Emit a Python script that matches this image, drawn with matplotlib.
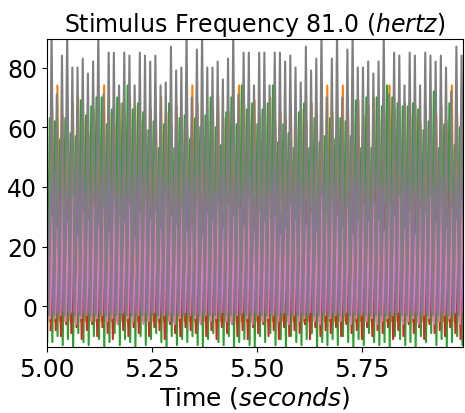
import numpy as np
import matplotlib
matplotlib.use("Agg")
import matplotlib.pyplot as plt

stim_freq = 81.0  # hertz, from the title
first_peak = 5.011  # seconds, first grey spike

# peak / trough heights per cycle
gray_peak = [92, 71, 84, 92, 80, 80, 83, 78, 82,
             92, 71, 85, 85, 74, 85, 84, 74, 85,
             84, 82, 84, 74, 75, 87, 79, 80, 92,
             70, 86, 92, 80, 80, 82, 76, 83, 92,
             71, 85, 85, 74, 85, 85, 74, 85, 85,
             82, 84, 80, 75, 87, 79, 83, 92, 70,
             83, 92, 70, 86, 92, 80, 80, 82, 78,
             82, 92, 71, 85, 84, 74, 85, 84, 74,
             85, 84, 82, 84, 80, 72, 87, 84, 86]
gray_trough = -3

orange_peak = [66, 74, 64, 60, 68, 70, 63, 58, 66,
               62, 74, 65, 61, 68, 64, 70, 67, 62,
               59, 66, 63, 70, 65, 61, 67, 63, 60,
               74, 68, 64, 62, 66, 70, 63, 65, 60,
               74, 67, 62, 69, 64, 66, 70, 61, 65,
               63, 67, 60, 66, 62, 68, 64, 61, 74,
               65, 63, 74, 66, 62, 69, 64, 67, 70,
               63, 65, 74, 66, 60, 68, 64, 67, 61,
               66, 60, 64, 67, 62, 74, 65, 63, 68]
orange_trough = -5

green_peak = [63, 62, 56, 63, 58, 57, 69, 64, 67,
              70, 70, 61, 66, 70, 68, 74, 66, 68,
              65, 59, 62, 53, 61, 68, 53, 63, 64,
              56, 63, 60, 64, 70, 60, 54, 65, 70,
              61, 74, 66, 68, 61, 66, 68, 74, 55,
              61, 58, 53, 65, 68, 53, 63, 55, 57,
              63, 56, 63, 62, 57, 69, 53, 70, 53,
              70, 67, 74, 70, 68, 67, 67, 68, 66,
              59, 62, 72, 53, 61, 68, 54, 60, 65]
green_trough = [-12, -10, -13, -11, -14, -9, -12, -13, -10,
                -11, -14, -12, -9, -13, -11, -12, -14, -10,
                -13, -11, -9, -12, -14, -10, -13, -11, -12,
                -10, -13, -14, -11, -9, -12, -13, -10, -14,
                -12, -11, -13, -14, -10, -12, -9, -13, -11,
                -14, -10, -12, -13, -11, -9, -14, -12, -13,
                -11, -13, -10, -12, -14, -11, -13, -9, -12,
                -13, -12, -14, -10, -11, -13, -12, -14, -10,
                -12, -9, -13, -11, -14, -12, -10, -13, -14]

red_peak = [34, 38, 31, 36, 33, 39, 35, 32, 37,
            36, 33, 38, 34, 31, 37, 35, 39, 32,
            33, 37, 35, 31, 38, 34, 36, 32, 39,
            38, 32, 36, 35, 33, 39, 31, 37, 34,
            35, 39, 33, 37, 32, 36, 38, 34, 31,
            37, 34, 39, 32, 36, 33, 35, 38, 31,
            32, 36, 34, 38, 35, 31, 37, 33, 39,
            39, 35, 32, 36, 34, 38, 33, 37, 35,
            34, 31, 37, 33, 39, 35, 32, 36, 38]
red_trough = [-8, -10, -6, -9, -7, -11, -8, -6, -10,
              -7, -9, -11, -6, -8, -10, -7, -9, -5,
              -10, -7, -8, -11, -6, -9, -10, -7, -8,
              -9, -6, -10, -8, -11, -7, -9, -6, -10,
              -8, -11, -7, -9, -6, -10, -8, -11, -7,
              -10, -8, -9, -6, -11, -7, -10, -8, -9,
              -7, -10, -6, -9, -8, -11, -7, -10, -8,
              -9, -7, -11, -8, -10, -6, -9, -7, -11,
              -6, -9, -8, -10, -7, -9, -11, -8, -10]

purple_peak = [42, 45, 40, 44, 41, 46, 43, 39, 44,
               41, 44, 46, 42, 40, 45, 43, 41, 44,
               45, 42, 39, 44, 43, 41, 46, 40, 43,
               40, 44, 42, 45, 41, 39, 44, 46, 42,
               43, 41, 45, 40, 44, 42, 39, 45, 41,
               44, 46, 41, 43, 40, 45, 42, 44, 39,
               41, 43, 45, 39, 44, 42, 46, 41, 43,
               45, 40, 43, 46, 42, 44, 41, 39, 45,
               42, 44, 40, 43, 45, 41, 44, 42, 46]
purple_trough = -2

pink_peak = [30, 26, 34, 28, 37, 24, 32, 29, 35,
             27, 33, 25, 36, 30, 28, 34, 23, 31,
             35, 29, 32, 26, 38, 30, 27, 33, 25,
             28, 36, 24, 31, 29, 35, 26, 34, 30,
             33, 27, 37, 25, 32, 28, 36, 30, 24,
             26, 34, 29, 35, 27, 31, 25, 37, 32,
             36, 30, 26, 33, 24, 29, 34, 28, 35,
             29, 25, 35, 30, 37, 26, 32, 24, 33,
             31, 37, 28, 34, 26, 33, 29, 35, 27]
pink_trough = [-4, -3, -5, -2, -6, -4, -3, -5, -4,
               -3, -5, -4, -6, -2, -4, -5, -3, -6,
               -5, -2, -4, -3, -5, -6, -4, -2, -3,
               -4, -6, -3, -5, -4, -2, -5, -6, -3,
               -2, -4, -6, -3, -5, -4, -3, -5, -2,
               -6, -3, -5, -4, -2, -5, -6, -3, -4,
               -3, -5, -2, -6, -4, -3, -5, -4, -6,
               -5, -4, -3, -2, -6, -5, -4, -6, -3,
               -4, -6, -5, -3, -4, -2, -6, -3, -5]


def spike_train(peaks, troughs, phase):
    # alternate trough / peak points, one spike per stimulus cycle
    period = 1.0 / stim_freq
    peaks = np.asarray(peaks, dtype=float)
    troughs = np.broadcast_to(np.asarray(troughs, dtype=float), peaks.shape)
    k = np.arange(len(peaks))
    t_peak = first_peak + (k + phase) * period
    t_trough = t_peak + 0.5 * period
    t = np.empty(2 * len(peaks) + 1)
    v = np.empty(2 * len(peaks) + 1)
    t[0] = t_peak[0] - 0.5 * period
    v[0] = troughs[0]
    t[1::2] = t_peak
    v[1::2] = peaks
    t[2::2] = t_trough
    v[2::2] = troughs
    return t, v


traces = [
    (orange_peak, orange_trough, 0.12, "tab:orange"),
    (green_peak, green_trough, -0.35, "tab:green"),
    (red_peak, red_trough, 0.3, "tab:red"),
    (purple_peak, purple_trough, -0.2, "tab:purple"),
    (pink_peak, pink_trough, 0.2, "tab:pink"),
    (gray_peak, gray_trough, 0.0, "tab:gray"),
]

fig = plt.figure(figsize=(4.65, 4.14), dpi=100)
ax = fig.add_axes([0.101, 0.159, 0.895, 0.744])

for peaks, troughs, phase, color in traces:
    t, v = spike_train(peaks, troughs, phase)
    ax.plot(t, v, color=color, linewidth=1.5)

ax.set_xlim(5.0, 5.99)
ax.set_ylim(-13.7, 89.5)
ax.set_xticks([5.0, 5.25, 5.5, 5.75])
ax.set_xticklabels(["5.00", "5.25", "5.50", "5.75"])
ax.set_yticks([0, 20, 40, 60, 80])
ax.tick_params(axis="x", labelsize=18)
ax.tick_params(axis="y", labelsize=17)
ax.set_title("Stimulus Frequency 81.0 ($hertz$)", fontsize=17)
ax.set_xlabel("Time ($seconds$)", fontsize=18, labelpad=2)

fig.savefig("out.png", dpi=100)
